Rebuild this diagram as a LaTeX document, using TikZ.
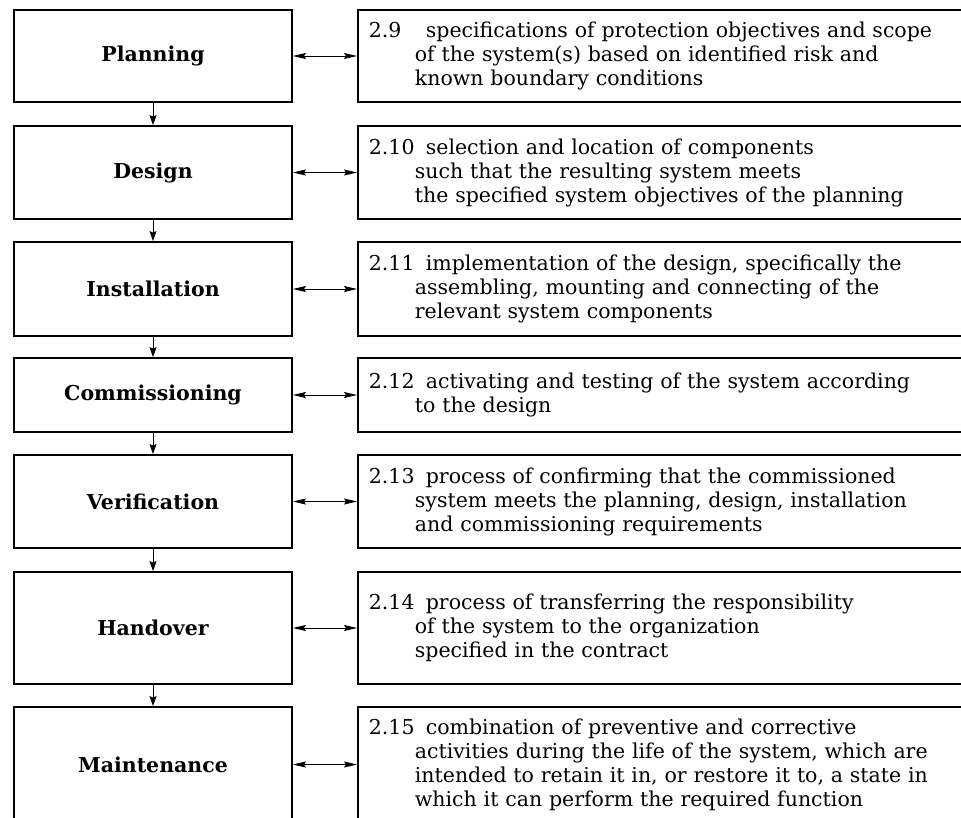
\documentclass[tikz,border=0pt]{standalone}
\usepackage{fontspec}
\setmainfont{DejaVu Serif}
\usetikzlibrary{arrows.meta}
\newcommand{\termno}[1]{\makebox[57pt][l]{#1}}
\newcommand{\contd}{\hspace*{46pt}}
\begin{document}
\begin{tikzpicture}[x=1pt,y=-1pt,
  stage/.style={draw, line width=1.8pt, minimum width=278pt, inner sep=0pt,
    font=\fontsize{20.5}{24}\selectfont\bfseries},
  term/.style={draw, line width=1.8pt, anchor=west, text width=600pt, align=left,
    inner xsep=11pt, inner ysep=0pt, font=\fontsize{20.5}{24}\selectfont},
  link/.style={line width=0.9pt, {Stealth[length=13pt,width=6pt,inset=2pt]}-{Stealth[length=13pt,width=6pt,inset=2pt]}},
  next/.style={line width=0.9pt, -{Stealth[length=10pt,width=7pt,inset=1.5pt]}}]
\useasboundingbox (0,0) rectangle (961,817);

\node[stage, minimum height=92pt] (plan) at (153,56) {Planning};
\node[stage, minimum height=93pt] (design) at (153,172.5) {Design};
\node[stage, minimum height=94pt] (inst) at (153,289) {Installation};
\node[stage, minimum height=74pt] (comm) at (153,395) {Commissioning};
\node[stage, minimum height=93pt] (verif) at (153,501.5) {Verification};
\node[stage, minimum height=112pt] (hand) at (153,628) {Handover};
\node[stage, minimum height=115pt] (maint) at (153,764.5) {Maintenance};

\node[term, minimum height=92pt] (planT) at (357,56)
  {\termno{2.9}specifications of protection objectives and scope\\
   \contd of the system(s) based on identified risk and\\
   \contd known boundary conditions};
\node[term, minimum height=93pt] (designT) at (357,172.5)
  {\termno{2.10}selection and location of components\\
   \contd such that the resulting system meets\\
   \contd the specified system objectives of the planning};
\node[term, minimum height=94pt] (instT) at (357,289)
  {\termno{2.11}implementation of the design, specifically the\\
   \contd assembling, mounting and connecting of the\\
   \contd relevant system components};
\node[term, minimum height=74pt] (commT) at (357,395)
  {\termno{2.12}activating and testing of the system according\\
   \contd to the design};
\node[term, minimum height=93pt] (verifT) at (357,501.5)
  {\termno{2.13}process of confirming that the commissioned\\
   \contd system meets the planning, design, installation\\
   \contd and commissioning requirements};
\node[term, minimum height=112pt] (handT) at (357,628)
  {\termno{2.14}process of transferring the responsibility\\
   \contd of the system to the organization\\
   \contd specified in the contract};
\node[term, minimum height=115pt] (maintT) at (357,764.5)
  {\termno{2.15}combination of preventive and corrective\\
   \contd activities during the life of the system, which are\\
   \contd intended to retain it in, or restore it to, a state in\\
   \contd which it can perform the required function};

\draw[next] (plan) -- (design);
\draw[next] (design) -- (inst);
\draw[next] (inst) -- (comm);
\draw[next] (comm) -- (verif);
\draw[next] (verif) -- (hand);
\draw[next] (hand) -- (maint);

\draw[link] (plan) -- (planT);
\draw[link] (design) -- (designT);
\draw[link] (inst) -- (instT);
\draw[link] (comm) -- (commT);
\draw[link] (verif) -- (verifT);
\draw[link] (hand) -- (handT);
\draw[link] (maint) -- (maintT);
\end{tikzpicture}
\end{document}
